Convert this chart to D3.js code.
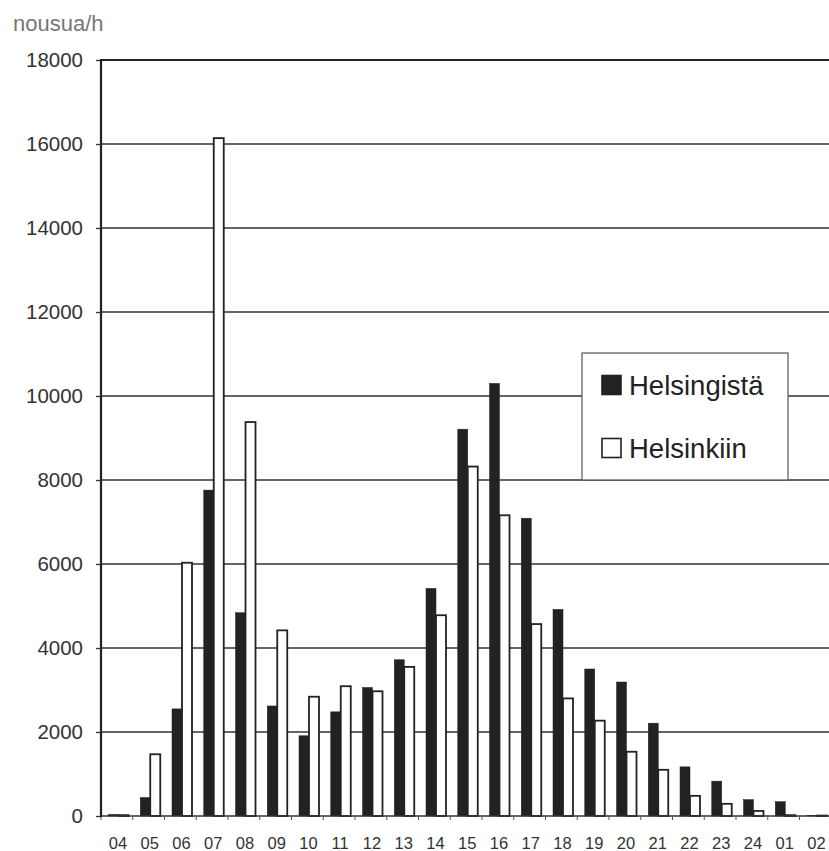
<!DOCTYPE html>
<html>
<head>
<meta charset="utf-8">
<script src="https://cdn.jsdelivr.net/npm/d3@7"></script>
<style>
  html, body { margin: 0; padding: 0; background: #fff; }
  svg { display: block; font-family: "Liberation Sans", Arial, sans-serif; }
</style>
</head>
<body>
<svg id="chart" width="829" height="851"></svg>
<script>
// Hours of the day (04 … 24, 01, 02)
const hours = ["04","05","06","07","08","09","10","11","12","13","14","15","16","17","18","19","20","21","22","23","24","01","02"];
// Boardings per hour, out of Helsinki
const fromHelsinki = [40, 440, 2550, 7760, 4840, 2620, 1910, 2480, 3060, 3720, 5420, 9210, 10300, 7090, 4920, 3500, 3190, 2210, 1170, 830, 390, 340, 15];
// Boardings per hour, into Helsinki
const toHelsinki = [20, 1470, 6030, 16140, 9380, 4420, 2840, 3090, 2970, 3550, 4780, 8320, 7160, 4570, 2800, 2270, 1530, 1100, 480, 290, 120, 20, 10];
const yTicks = [0, 2000, 4000, 6000, 8000, 10000, 12000, 14000, 16000, 18000];
const seriesNames = ["Helsingistä", "Helsinkiin"];
const yLabel = "nousua/h";

const svg = d3.select("#chart");
const plotLeft = 101, plotTop = 60, plotBottom = 816;
const bandW = 31.75;
const plotRight = plotLeft + hours.length * bandW;
const font = "'Liberation Sans', Arial, sans-serif";

const x = d3.scaleBand().domain(hours).range([plotLeft, plotRight]).padding(0);
const sub = d3.scaleBand().domain(seriesNames).range([7.5, 27.5]).padding(0);
const y = d3.scaleLinear().domain([0, 18000]).range([plotBottom, plotTop]);

const rows = hours.map((h, i) => ({ hour: h, values: [
  { key: seriesNames[0], v: fromHelsinki[i] },
  { key: seriesNames[1], v: toHelsinki[i] }
]}));

// horizontal gridlines
svg.append("g").selectAll("line").data(yTicks.filter(t => t > 0)).join("line")
  .attr("x1", plotLeft).attr("x2", 829)
  .attr("y1", d => y(d)).attr("y2", d => y(d))
  .attr("stroke", d => d === 18000 ? "#222" : "#333")
  .attr("stroke-width", d => d === 18000 ? 2.2 : 1.4);

// y axis with tick labels
const yAxis = d3.axisLeft(y).tickValues(yTicks).tickSize(5).tickPadding(13).tickFormat(d3.format("d"));
const gy = svg.append("g").attr("transform", `translate(${plotLeft},0)`).call(yAxis);
gy.select(".domain").remove();
gy.selectAll(".tick line").attr("stroke", "#333").attr("stroke-width", 1.3);
gy.selectAll(".tick text").attr("font-size", 20.5).attr("fill", "#333")
  .attr("font-family", font);

// bars
const groups = svg.append("g").selectAll("g").data(rows).join("g")
  .attr("transform", d => `translate(${x(d.hour)},0)`);
groups.selectAll("rect").data(d => d.values).join("rect")
  .attr("x", d => sub(d.key))
  .attr("width", sub.bandwidth())
  .attr("y", d => y(d.v))
  .attr("height", d => plotBottom - y(d.v))
  .attr("fill", d => d.key === seriesNames[0] ? "#222" : "#ffffff")
  .attr("stroke", d => d.key === seriesNames[0] ? "#222" : "#222")
  .attr("stroke-width", d => d.key === seriesNames[0] ? 0.5 : 1.8);

// x axis: baseline, ticks between categories, hour labels
const xAxis = d3.axisBottom(x).tickSize(0).tickPadding(21);
const gx = svg.append("g").attr("transform", `translate(0,${plotBottom})`).call(xAxis);
gx.select(".domain").remove();
gx.selectAll(".tick text").attr("font-size", 16.5).attr("fill", "#333")
  .attr("dx", 1)
  .attr("font-family", font);
svg.append("line").attr("x1", plotLeft).attr("x2", 829).attr("y1", plotBottom).attr("y2", plotBottom)
  .attr("stroke", "#333").attr("stroke-width", 1.6);
svg.append("g").selectAll("line").data(hours).join("line")
  .attr("x1", d => x(d)).attr("x2", d => x(d))
  .attr("y1", plotBottom).attr("y2", plotBottom + 4)
  .attr("stroke", "#555").attr("stroke-width", 1);

// left axis line
svg.append("line").attr("x1", plotLeft).attr("x2", plotLeft).attr("y1", plotTop - 1).attr("y2", plotBottom + 1)
  .attr("stroke", "#222").attr("stroke-width", 2.2);

// unit label
svg.append("text").attr("x", 13).attr("y", 31).text(yLabel)
  .attr("font-size", 22).attr("fill", "#777").attr("font-family", font);

// legend
const lg = svg.append("g");
lg.append("rect").attr("x", 582).attr("y", 353).attr("width", 206).attr("height", 127)
  .attr("fill", "#fff").attr("stroke", "#555").attr("stroke-width", 1.2);
const legendRows = [
  { name: seriesNames[0], fill: "#222", y: 375.5 },
  { name: seriesNames[1], fill: "#fff", y: 438.5 }
];
legendRows.forEach(r => {
  lg.append("rect").attr("x", 602).attr("y", r.y).attr("width", 19).attr("height", 19)
    .attr("fill", r.fill).attr("stroke", "#222").attr("stroke-width", 1.6);
  lg.append("text").attr("x", 629).attr("y", r.y + 19.5).text(r.name)
    .attr("font-size", 27.5).attr("fill", "#222").attr("font-family", font);
});
</script>
</body>
</html>
